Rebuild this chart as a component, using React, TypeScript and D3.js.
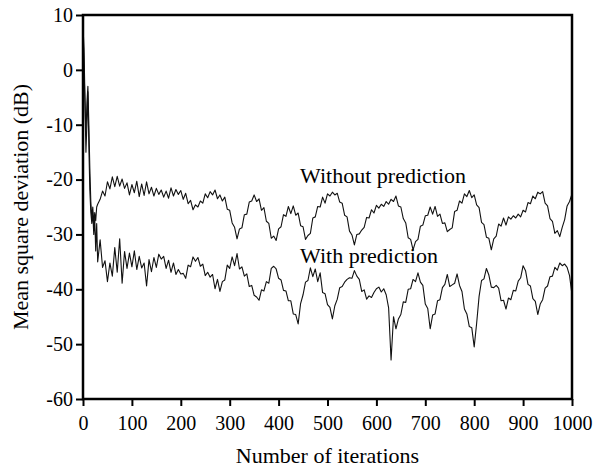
import React, { useEffect, useRef } from 'react';
import * as d3 from 'd3';

// iteration index of every sample (denser at the very start)
const iterations = [
  0, 2, 4, 6, 8, 10, 12, 14, 16, 18, 20, 22, 24, 26, 28, 30,
  ...d3.range(35, 1001, 5),
];

// MSD without prediction (dB)
const withoutPrediction = [
  8, 4, -5, -12, -6, -3, -10, -18, -24, -27, -25, -28, -26, -27.5, -25, -24.5,
  -23.6, -22.1, -23.0, -20.4, -21.7, -19.5, -21.3, -19.4, -21.2, -19.9, -21.6, -20.6, -22.8, -20.9,
  -22.4, -20.3, -23.1, -20.8, -22.9, -20.4, -22.6, -21.4, -23.0, -21.6, -22.7, -21.9, -23.2, -22.1,
  -23.4, -21.5, -23.0, -21.8, -22.7, -22.0, -23.6, -22.5, -24.4, -23.8, -25.5, -24.6, -25.0, -23.9,
  -24.3, -22.6, -23.3, -22.2, -22.8, -21.9, -23.5, -22.8, -23.9, -23.2, -25.4, -25.6, -27.9, -28.7,
  -30.8, -29.0, -28.8, -26.4, -26.3, -24.1, -23.9, -22.8, -24.0, -23.5, -25.6, -25.1, -27.6, -28.0,
  -30.7, -30.3, -31.1, -29.0, -28.6, -26.4, -26.7, -24.9, -26.2, -24.8, -26.5, -26.1, -28.4, -28.6,
  -30.9, -30.2, -29.8, -27.0, -26.8, -24.9, -25.0, -23.2, -24.3, -22.6, -23.0, -22.3, -22.8, -22.5,
  -24.1, -24.3, -26.5, -26.8, -29.4, -30.1, -31.9, -30.0, -29.9, -29.2, -28.7, -26.9, -27.0, -25.5,
  -26.1, -24.7, -25.2, -24.5, -24.9, -24.0, -24.5, -23.6, -24.0, -23.0, -24.8, -25.0, -27.1, -27.9,
  -30.6, -30.9, -32.8, -31.3, -30.9, -28.5, -28.3, -26.6, -26.5, -25.0, -26.3, -24.9, -26.7, -26.3,
  -28.0, -27.9, -29.5, -29.1, -28.8, -25.8, -25.6, -23.9, -24.3, -22.6, -23.1, -22.0, -23.3, -22.8,
  -24.6, -25.1, -27.8, -28.2, -30.5, -30.7, -32.8, -30.8, -30.3, -28.1, -28.5, -27.0, -28.3, -26.8,
  -27.2, -26.6, -27.0, -26.3, -26.8, -25.6, -25.9, -24.2, -24.4, -23.0, -23.5, -22.3, -22.6, -22.2,
  -24.3, -24.8, -27.1, -27.6, -29.8, -29.3, -30.4, -28.7, -27.3, -24.8, -24.0, -22.6,
];

// MSD with prediction (dB)
const withPrediction = [
  7, 1, -6, -15, -10, -4, -14, -22, -26, -28, -26, -30, -27, -33, -28, -35,
  -31.0, -36.0, -34.8, -38.6, -35.2, -37.6, -32.4, -36.9, -30.8, -38.9, -33.1, -36.2, -33.4, -35.9,
  -33.0, -36.4, -34.0, -36.1, -35.2, -39.4, -34.6, -36.8, -34.2, -36.0, -33.6, -34.5, -34.0, -36.2,
  -34.7, -36.9, -35.2, -37.3, -36.4, -37.2, -37.1, -38.0, -35.6, -35.9, -34.1, -34.9, -34.2, -35.8,
  -35.4, -37.5, -36.9, -37.8, -37.3, -39.9, -38.2, -40.4, -38.6, -38.3, -35.6, -36.2, -34.1, -35.7,
  -33.5, -36.3, -35.9, -37.6, -37.2, -39.5, -39.3, -41.1, -41.4, -42.0, -40.1, -40.3, -38.6, -38.9,
  -36.2, -35.8, -36.3, -38.0, -38.3, -40.2, -40.3, -42.1, -42.1, -44.5, -44.6, -46.3, -42.6, -41.0,
  -38.7, -38.4, -36.1, -37.7, -36.3, -38.6, -37.0, -40.6, -40.8, -42.8, -43.3, -45.4, -43.0, -41.8,
  -39.7, -39.5, -38.7, -38.2, -37.9, -38.0, -36.6, -37.6, -38.2, -40.4, -40.1, -41.8, -41.2, -41.5,
  -40.6, -39.9, -39.6, -40.5, -39.9, -41.0, -43.4, -52.9, -45.0, -47.2, -45.4, -44.6, -42.3, -42.4,
  -40.0, -39.9, -38.2, -38.6, -37.0, -38.7, -39.3, -42.7, -43.5, -47.2, -44.7, -44.5, -42.1, -41.9,
  -39.7, -39.1, -37.3, -39.5, -39.2, -38.9, -37.2, -39.3, -40.4, -43.6, -44.5, -46.8, -47.0, -50.5,
  -46.2, -41.3, -38.4, -38.1, -36.2, -37.4, -39.6, -39.7, -39.3, -39.8, -42.1, -42.0, -43.6, -41.6,
  -41.9, -40.2, -40.3, -38.5, -37.9, -35.7, -36.6, -39.1, -39.4, -41.7, -42.2, -44.6, -42.7, -41.9,
  -39.8, -39.4, -37.7, -37.6, -36.0, -36.5, -35.2, -35.7, -35.4, -36.0, -37.5, -41.0,
];

const xTicks = d3.range(0, 1001, 100);
const yTicks = d3.range(10, -61, -10);

const curveLabels = [
  { text: 'Without prediction', at: [444, -20.6] },
  { text: 'With prediction', at: [444, -35.2] },
];

function MsdChart() {
  const svgRef = useRef(null);
  const width = 595;
  const height = 471;

  useEffect(() => {
    const svg = d3.select(svgRef.current);
    svg.selectAll('*').remove();

    const margin = { top: 15, right: 23, bottom: 72, left: 83 };
    const font = 'Liberation Serif, Times New Roman, serif';

    const x = d3.scaleLinear().domain([0, 1000]).range([margin.left, width - margin.right]);
    const y = d3.scaleLinear().domain([-60, 10]).range([height - margin.bottom, margin.top]);

    const line = d3.line()
      .x((d) => x(d[0]))
      .y((d) => y(d[1]));

    const series = [withoutPrediction, withPrediction];
    series.forEach((vals) => {
      svg.append('path')
        .datum(iterations.map((it, i) => [it, vals[i]]))
        .attr('fill', 'none')
        .attr('stroke', '#111')
        .attr('stroke-width', 1.1)
        .attr('stroke-linejoin', 'round')
        .attr('d', line);
    });

    // axes
    const xAxis = svg.append('g')
      .attr('transform', `translate(0, ${height - margin.bottom})`)
      .call(d3.axisBottom(x).tickValues(xTicks).tickSize(7).tickPadding(10).tickFormat((d) => String(d)));
    const yAxis = svg.append('g')
      .attr('transform', `translate(${margin.left}, 0)`)
      .call(d3.axisLeft(y).tickValues(yTicks).tickSize(7).tickPadding(3).tickFormat((d) => String(d)));

    [xAxis, yAxis].forEach((g) => {
      g.attr('font-family', font).attr('font-size', 20);
      g.select('.domain').remove();
      g.selectAll('line').attr('stroke', '#000').attr('stroke-width', 2);
      g.selectAll('text').attr('fill', '#000');
    });

    // frame
    svg.append('rect')
      .attr('x', margin.left)
      .attr('y', margin.top)
      .attr('width', width - margin.left - margin.right)
      .attr('height', height - margin.top - margin.bottom)
      .attr('fill', 'none')
      .attr('stroke', '#000')
      .attr('stroke-width', 2.5);

    // curve labels (x given in iterations)
    svg.selectAll('.curve-label')
      .data(curveLabels)
      .join('text')
      .attr('class', 'curve-label')
      .attr('x', (d) => x(d.at[0]))
      .attr('y', (d) => y(d.at[1]))
      .attr('font-family', font)
      .attr('font-size', 22)
      .text((d) => d.text);

    // axis titles
    svg.append('text')
      .attr('x', (margin.left + width - margin.right) / 2)
      .attr('y', 463)
      .attr('text-anchor', 'middle')
      .attr('font-family', font)
      .attr('font-size', 22)
      .text('Number of iterations');

    svg.append('text')
      .attr('transform', `translate(28, ${(margin.top + height - margin.bottom) / 2}) rotate(-90)`)
      .attr('text-anchor', 'middle')
      .attr('font-family', font)
      .attr('font-size', 22)
      .text('Mean square deviation (dB)');
  }, []);

  return (
    <svg
      ref={svgRef}
      width={width}
      height={height}
      style={{ position: 'absolute', left: 0, top: 0, background: '#fff' }}
    />
  );
}

export default function App() {
  return <MsdChart />;
}
